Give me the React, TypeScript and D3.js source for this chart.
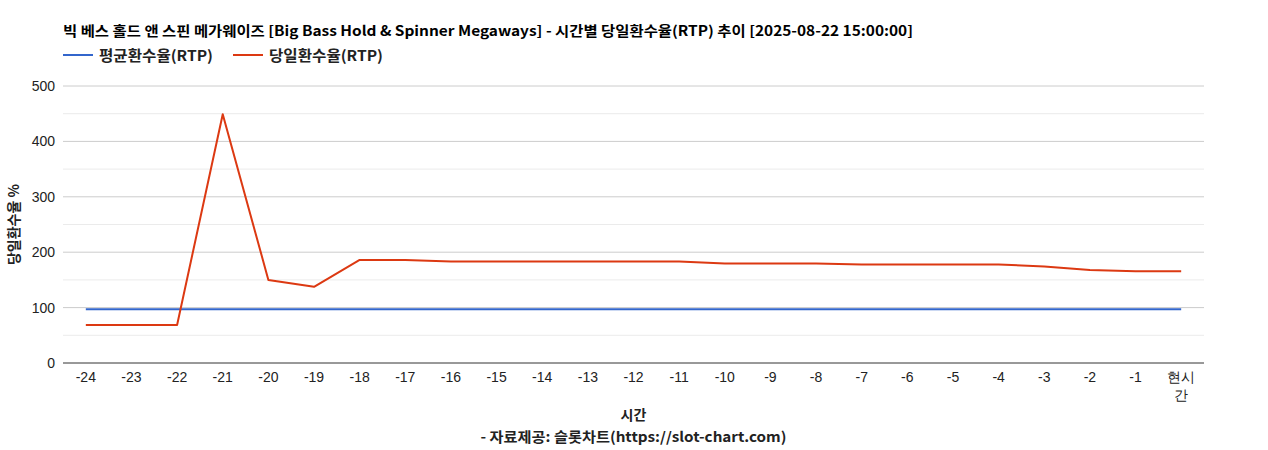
import React from "react";
import * as d3 from "d3";

const title = "빅 베스 홀드 앤 스핀 메가웨이즈 [Big Bass Hold & Spinner Megaways] - 시간별 당일환수율(RTP) 추이 [2025-08-22 15:00:00]";
const categories = ["-24","-23","-22","-21","-20","-19","-18","-17","-16","-15","-14","-13","-12","-11","-10","-9","-8","-7","-6","-5","-4","-3","-2","-1","현시간"];
const avgRtp = [97,97,97,97,97,97,97,97,97,97,97,97,97,97,97,97,97,97,97,97,97,97,97,97,97];
const dayRtp = [68.5,68.5,68.5,449,150,137.5,186,186,183,183,183,183,183,183,179.5,179.5,179.5,178,178,178,178,174,168,165.5,165.5];
const yTicks = [0,100,200,300,400,500];
const yMinor = [50,150,250,350,450];
const seriesNames = ["평균환수율(RTP)","당일환수율(RTP)"];
const colors = ["#3366cc","#dc3912"];

const W = 1268, H = 450;
const left = 63, right = 1204, top = 86, bottom = 363;
const font = "'Noto Sans CJK KR', 'Noto Sans', sans-serif";
const tickFont = "'Liberation Sans', Arial, sans-serif";

export default function App() {
  const x = d3.scaleBand<string>().domain(categories).range([left, right]);
  const y = d3.scaleLinear().domain([0, 500]).range([bottom, top]);
  const cx = (c: string) => (x(c) as number) + x.bandwidth() / 2;
  const line = d3.line<number>().x((_, i) => cx(categories[i])).y(d => y(d));
  const series = [avgRtp, dayRtp];
  return (
    <svg width={W} height={H} style={{ position: "absolute", left: 0, top: 0 }}>
      <rect width={W} height={H} fill="#fff" />
      <text x={63} y={36} fontFamily={font} fontWeight="bold" fontSize={14} fill="#000" textLength={850} lengthAdjust="spacingAndGlyphs">{title}</text>
      {seriesNames.map((n, i) => {
        const lx = i === 0 ? 63 : 233;
        return (
          <g key={n}>
            <line x1={lx} x2={lx + 30} y1={55} y2={55} stroke={colors[i]} strokeWidth={2} />
            <text x={lx + 36} y={60.5} fontFamily={font} fontWeight="bold" fontSize={14.5} fill="#222" textLength={114} lengthAdjust="spacingAndGlyphs">{n}</text>
          </g>
        );
      })}
      {yMinor.map(v => (
        <line key={"m" + v} x1={left} x2={right} y1={y(v)} y2={y(v)} stroke="#ebebeb" strokeWidth={1} />
      ))}
      {yTicks.map(v => (
        <g key={v}>
          {v !== 0 && <line x1={left} x2={right} y1={y(v)} y2={y(v)} stroke="#cccccc" strokeWidth={1} />}
          <text x={left - 8} y={y(v) + 5} textAnchor="end" fontFamily={tickFont} fontSize={14} fill="#222">{v}</text>
        </g>
      ))}
      {series.map((s, i) => (
        <path key={i} d={line(s) as string} fill="none" stroke={colors[i]} strokeWidth={2} strokeLinejoin="round" />
      ))}
      <line x1={left} x2={right} y1={bottom} y2={bottom} stroke="#333" strokeWidth={1} />
      {categories.map(c => {
        const lines = c === "현시간" ? ["현시", "간"] : [c];
        return (
          <text key={c} x={cx(c)} textAnchor="middle" fontFamily={tickFont} fontSize={14} fill="#222">
            {lines.map((l, j) => (
              <tspan key={j} x={cx(c)} y={382 + j * 18}>{l}</tspan>
            ))}
          </text>
        );
      })}
      <text x={(left + right) / 2} y={420} textAnchor="middle" fontFamily={font} fontWeight="bold" fontSize={14} fill="#222">시간</text>
      <text x={(left + right) / 2} y={442} textAnchor="middle" fontFamily={font} fontWeight="bold" fontSize={14} fill="#222" textLength={306} lengthAdjust="spacingAndGlyphs">- 자료제공: 슬롯차트(https://slot-chart.com)</text>
      <text transform={`translate(19, ${(top + bottom) / 2}) rotate(-90)`} textAnchor="middle" fontFamily={font} fontWeight="bold" fontSize={14} fill="#222">당일환수율 %</text>
    </svg>
  );
}
